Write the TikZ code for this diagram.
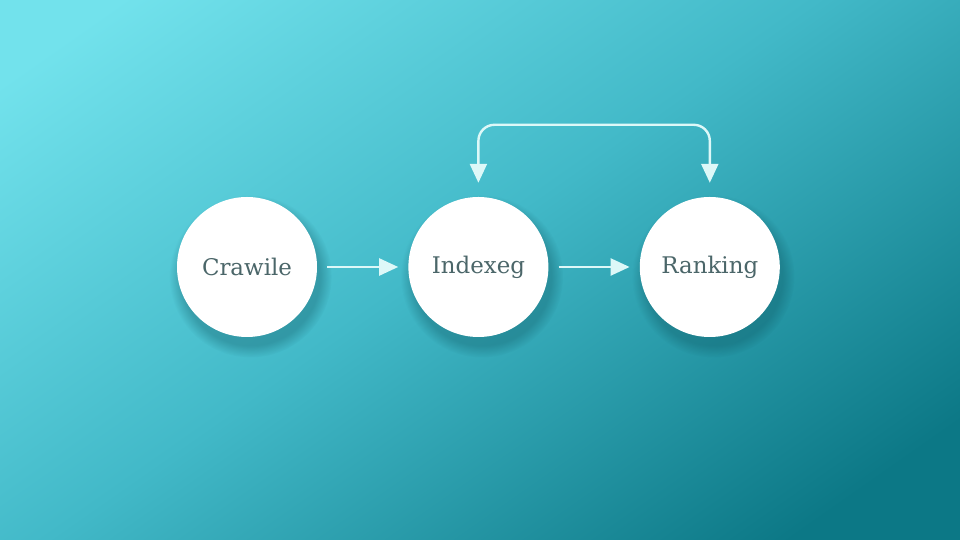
\documentclass[tikz,border=0pt]{standalone}
\usepackage{fontspec}
\setmainfont{DejaVu Serif}
\usepackage{tikz}
\usetikzlibrary{arrows.meta,positioning,shadows}
\definecolor{bglight}{HTML}{72E2EC}
\definecolor{bgmid}{HTML}{42B9C8}
\definecolor{bgdark}{HTML}{0C7886}
\definecolor{shadowteal}{HTML}{0A4F5A}
\definecolor{labelgray}{HTML}{4B6669}
\definecolor{arrowcyan}{HTML}{DDF8F8}
\pgfdeclareverticalshading{backdrop}{100bp}{color(0bp)=(bgdark); color(22bp)=(bgdark); color(52bp)=(bgmid); color(80bp)=(bglight); color(100bp)=(bglight)}
\tikzstyle{vertex}=[circle,fill=white,minimum size=140bp,inner sep=0pt,text=labelgray,font=\fontsize{23}{27}\selectfont,circular drop shadow={shadow xshift=3bp,shadow yshift=-8bp,shadow scale=1.16,fill=shadowteal,opacity=0.32}]
\tikzstyle{flow}=[draw=arrowcyan,line width=2.4bp,-{Triangle[length=19bp,width=17bp]}]

\begin{document}
\begin{tikzpicture}[x=1bp,y=1bp,node distance=91bp]
\useasboundingbox (0,0) rectangle (960,540);
\shade[shading=backdrop,shading angle=35] (0,0) rectangle (960,540);

\node [vertex] (crawl) at (247,273) {Crawile};
\node [vertex, right=of crawl] (index) {Indexeg};
\node [vertex, right=of index] (rank) {Ranking};

\draw [flow, shorten <=10bp, shorten >=10bp] (crawl) -- (index);
\draw [flow, shorten <=10bp, shorten >=10bp] (index) -- (rank);
\draw [flow, {Triangle[length=19bp,width=17bp]}-{Triangle[length=19bp,width=17bp]}, rounded corners=16bp]
    ([yshift=14bp]index.north) -- ++(0,58) -| ([yshift=14bp]rank.north);
\end{tikzpicture}
\end{document}
